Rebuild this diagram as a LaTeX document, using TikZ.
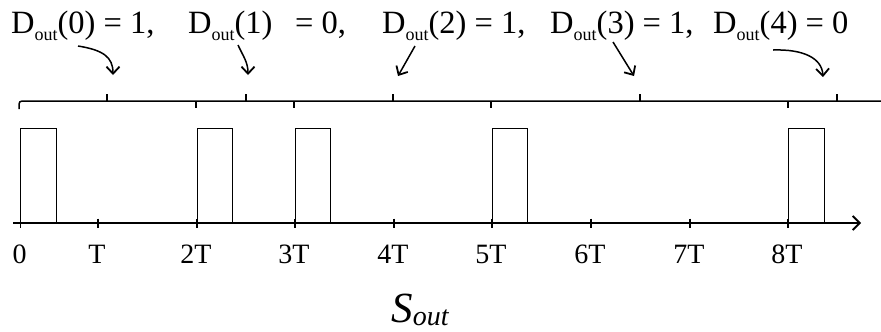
\documentclass[tikz,border=0pt]{standalone}
\usepackage{fontspec}
\setmainfont{Liberation Serif}
\usetikzlibrary{arrows.meta}
\newcommand\Dout{D\raisebox{-7bp}{\fontsize{18bp}{18bp}\selectfont out}}
\tikzset{
  lbl/.style={anchor=base west, inner sep=0pt, font=\fontsize{32.5bp}{38bp}\selectfont},
  tlbl/.style={anchor=base, inner sep=0pt, font=\fontsize{28bp}{32bp}\selectfont},
  axisline/.style={line width=1.5bp},
  pulse/.style={line width=1bp},
  brk/.style={line width=1.5bp},
  ptr/.style={line width=1.5bp, -{Straight Barb[length=7bp,width=13bp,line width=1.8bp]}},
}
\begin{document}
\begin{tikzpicture}[x=1bp,y=-1bp]
\useasboundingbox (0,0) rectangle (881,331);
% labels
\node[lbl] (d0) at (11,33) {\Dout(0) = 1,};
\node[lbl] (d1) at (188,33) {\Dout(1)};
\node[lbl] (d1v) at (295,33) {= 0,};
\node[lbl] (d2) at (382,33) {\Dout(2) = 1,};
\node[lbl] (d3) at (550,33) {\Dout(3) = 1,};
\node[lbl] (d4) at (713,33) {\Dout(4) = 0};
% bracket line
\coordinate (u0) at (107,101);
\coordinate (u1) at (246,101);
\coordinate (u2) at (393,101);
\coordinate (u3) at (640,101);
\coordinate (u4) at (837,101);
\draw[brk, rounded corners=3bp] (19,109) -- (19,101) -- (881,101);
\foreach \x in {196,294,491,788} \draw[brk] (\x,101) -- (\x,108);
\foreach \c in {u0,u1,u2,u3,u4} \draw[brk] (\c) -- ++(0,-7);
% pointers
\coordinate (a0s) at (78,46);   \coordinate (a0e) at (113,75);
\coordinate (a1s) at (238,45);  \coordinate (a1e) at (248,75);
\coordinate (a2s) at (415,46);  \coordinate (a2e) at (398,76);
\coordinate (a3s) at (613,42);  \coordinate (a3e) at (634,76);
\coordinate (a4s) at (773,50);  \coordinate (a4e) at (823,77);
\draw[ptr] (a0s) .. controls (103,50) and (113,57) .. (a0e);
\draw[ptr] (a1s) .. controls (243,56) and (248,62) .. (a1e);
\draw[ptr] (a2s) -- (a2e);
\draw[ptr] (a3s) -- (a3e);
\draw[ptr] (a4s) .. controls (803,49) and (822,58) .. (a4e);
% pulses
\foreach \x in {20.5,197,295,492,788.5}
  \draw[pulse] (\x,223) -- (\x,128.5) -- (\x+35.5,128.5) -- (\x+35.5,223);
% axis
\coordinate (ax0) at (13,223);
\coordinate (ax1) at (861,223);
\draw[axisline, -{Straight Barb[length=7bp,width=14bp,line width=1.8bp]}] (ax0) -- (ax1);
\foreach \x/\t in {20.5/0,98/T,197/2T,295/3T,394/4T,492/5T,591/6T,690/7T,788/8T}{
  \draw[axisline] (\x,218.5) -- (\x,227.5);
  \node[tlbl] at (\x-1,263) {\t};
}
% title
\node[anchor=base, inner sep=0pt] (sout) at (420,322)
  {{\fontsize{43bp}{50bp}\selectfont\itshape S}\raisebox{-3bp}{\fontsize{28bp}{32bp}\selectfont\itshape out}};
\end{tikzpicture}
\end{document}
